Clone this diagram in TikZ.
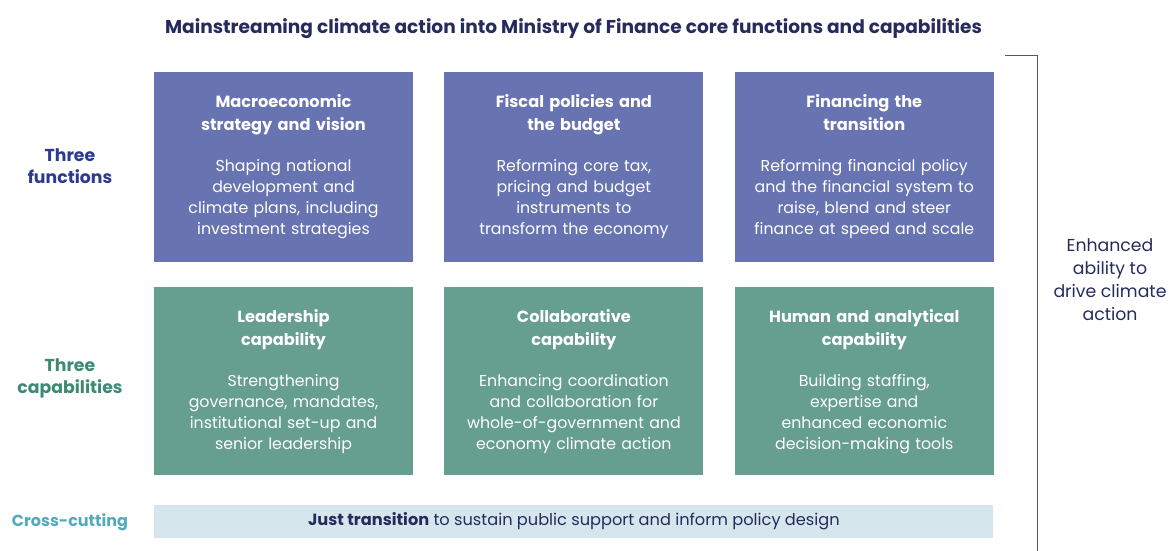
\documentclass[tikz,border=0pt]{standalone}
\usepackage{fontspec}
\setmainfont{Poppins}
\usepackage{tikz}
\usetikzlibrary{positioning}
\definecolor{navy}{HTML}{262B5C}
\definecolor{funcblue}{HTML}{6873B1}
\definecolor{capgreen}{HTML}{669F8F}
\definecolor{crossbg}{HTML}{D5E7ED}
\definecolor{funclabel}{HTML}{2B3990}
\definecolor{caplabel}{HTML}{3D8A74}
\definecolor{crosslabel}{HTML}{52AABF}
\definecolor{rulegray}{HTML}{505575}

\begin{document}
\begin{tikzpicture}[
  x=1pt, y=-1pt,
  block/.style={rectangle, fill=#1, minimum width=259pt, minimum height=190pt,
    text width=255pt, align=center, text=white, inner sep=0pt,
    font=\fontsize{15.8}{21}\selectfont},
  rowlabel/.style={align=center, font=\fontsize{17.3}{22}\selectfont\bfseries, text=#1},
  bracket/.style={draw=rulegray, line width=0.9pt}
]
\useasboundingbox (0,0) rectangle (1169,551);

% Title
\node[font=\fontsize{18.6}{22}\selectfont\bfseries, text=navy] (title) at (573.5,29)
  {Mainstreaming climate action into Ministry of Finance core functions and capabilities};

% Row 1: functions
\node[block=funcblue] (fn1) at (283.5,167) {{\bfseries\fontsize{16.2}{23}\selectfont Macroeconomic\\strategy and vision\par}\vspace{20pt}
  Shaping national\\development and\\climate plans, including\\investment strategies};
\node[block=funcblue, right=31pt of fn1] (fn2) {{\bfseries\fontsize{16.2}{23}\selectfont Fiscal policies and\\the budget\par}\vspace{20pt}
  Reforming core tax,\\pricing and budget\\instruments to\\transform the economy};
\node[block=funcblue, right=31pt of fn2] (fn3) {{\bfseries\fontsize{16.2}{23}\selectfont Financing the\\transition\par}\vspace{20pt}
  Reforming financial policy\\and the financial system to\\raise, blend and steer\\finance at speed and scale};

% Row 2: capabilities
\node[block=capgreen, minimum height=188pt, below=25pt of fn1] (cp1) {{\bfseries\fontsize{16.2}{23}\selectfont Leadership\\capability\par}\vspace{20pt}
  Strengthening\\governance, mandates,\\institutional set-up and\\senior leadership};
\node[block=capgreen, minimum height=188pt, below=25pt of fn2] (cp2) {{\bfseries\fontsize{16.2}{23}\selectfont Collaborative\\capability\par}\vspace{20pt}
  Enhancing coordination\\and collaboration for\\whole-of-government and\\economy climate action};
\node[block=capgreen, minimum height=188pt, below=25pt of fn3] (cp3) {{\bfseries\fontsize{16.2}{23}\selectfont Human and analytical\\capability\par}\vspace{20pt}
  Building staffing,\\expertise and\\enhanced economic\\decision-making tools};

% Row 3: cross-cutting bar
\node[rectangle, fill=crossbg, minimum width=839pt, minimum height=33pt, inner sep=0pt,
  text=navy, font=\fontsize{16.2}{18}\selectfont, below=29pt of cp2] (cross)
  {\raisebox{-2pt}{\textbf{Just transition} to sustain public support and inform policy design}};

% Row labels
\node[rowlabel=funclabel] (lfn) at (70,166) {Three\\functions};
\node[rowlabel=caplabel] (lcp) at (70,378) {Three\\capabilities};
\node[rowlabel=crosslabel, font=\fontsize{16}{20}\selectfont\bfseries] (lcross) at (70,522) {Cross-cutting};

% Bracket and outcome
\coordinate (brtop) at (1005,55);
\coordinate (brbot) at (1037,551);
\draw[bracket] (brtop) -| (brbot);
\node[align=center, text=navy, font=\fontsize{17.3}{23}\selectfont] (outcome) at (1110,280)
  {Enhanced\\ability to\\drive climate\\action};

\end{tikzpicture}
\end{document}
